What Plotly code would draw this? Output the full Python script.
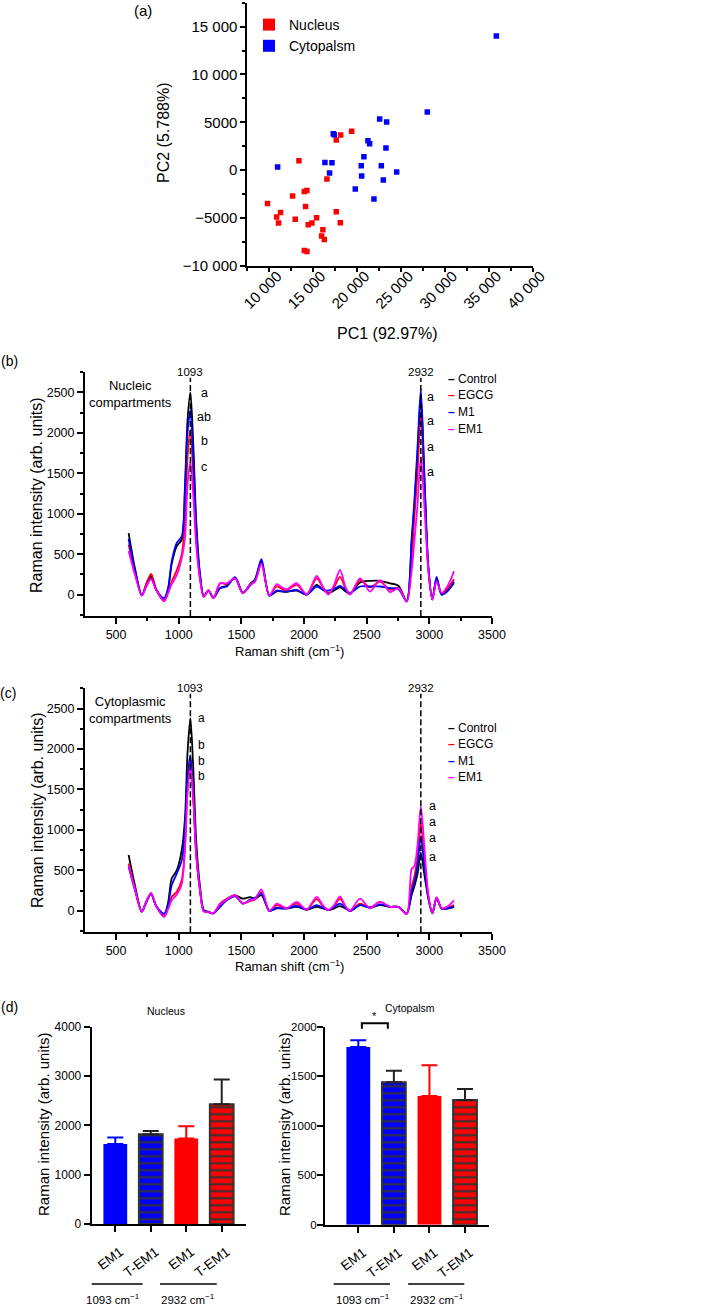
import plotly.graph_objects as go

# ---------------- DATA ----------------
# (a) PCA scores
nucleus_pc1 = [9800, 10840, 11060, 11290, 12660, 12960, 13380, 13990, 14290, 14140, 14440, 14860,
               15390, 13990, 14290, 16110, 15960, 16270, 16570, 17630, 18090, 17630, 18130, 19380]
nucleus_pc2 = [-3490, -4920, -5540, -4430, -2720, -5130, 980, -2230, -2130, -3800, -5720, -5540,
               -4990, -8400, -8510, -6240, -6900, -7250, -940, -4360, -5510, 3140, 3660, 4050]
cyto_pc1 = [10950, 17290, 17400, 16340, 17140, 16870, 19800, 20480, 20520, 20780, 21240,
            21430, 21920, 22570, 23370, 23290, 22760, 22990, 24510, 28000, 35860]
cyto_pc2 = [310, 3800, 3700, 800, 770, -310, -1990, 450, -630, 1400, 3070,
            2760, -3030, 5340, 5020, 2300, 450, -1050, -210, 6070, 14020]
pca_xticks = [10000, 15000, 20000, 25000, 30000, 35000, 40000]
pca_xticktext = ["10 000", "15 000", "20 000", "25 000", "30 000", "35 000", "40 000"]
pca_yticks = [-10000, -5000, 0, 5000, 10000, 15000]
pca_yticktext = ["\u221210 000", "\u22125000", "0", "5000", "10 000", "15 000"]

# (b), (c) Raman spectra
raman_shift = [600, 650, 705, 740, 779, 820, 883, 915, 944, 984,
               1024, 1050, 1070, 1093, 1115, 1140, 1170, 1200, 1237, 1277,
               1330, 1383, 1450, 1511, 1569, 1609, 1660, 1723, 1782, 1822,
               1862, 1941, 2021, 2101, 2150, 2194, 2240, 2287, 2330, 2367,
               2447, 2527, 2606, 2686, 2753, 2819, 2859, 2880, 2905, 2932,
               2960, 2992, 3024, 3058, 3098, 3150, 3197]

nuc_control = [760, 330, -10, 120, 230, 60, -75, 60, 380, 600,
               680, 1350, 2150, 2500, 1900, 900, 250, -20, 50, -40,
               80, 110, 200, 20, 130, 190, 410, -10, 40, 40,
               35, 50, 0, 120, 60, 20, 50, 90, 40, 10,
               150, 170, 170, 140, 110, -80, 650, 1080, 1700, 2450,
               1450, 330, -60, 200, 0, 60, 140]
nuc_egcg = [620, 280, -10, 130, 255, 70, -85, 20, 160, 300,
            500, 900, 1700, 2040, 1500, 700, 200, -25, 55, -40,
            140, 130, 210, 20, 120, 170, 380, -10, 100, 70,
            55, 120, 0, 200, 90, 10, 90, 220, 80, 5,
            180, 90, 160, 60, 80, -85, 450, 950, 1500, 2230,
            1350, 320, -60, 180, 10, 90, 190]
nuc_m1 = [690, 300, -10, 100, 200, 60, -45, 80, 410, 640,
          720, 1300, 2000, 2280, 1750, 800, 230, -20, 50, -40,
          80, 100, 215, 20, 110, 180, 437, -15, 50, 40,
          37, 58, 0, 100, 60, 50, 70, 107, 60, 20,
          100, 100, 100, 80, 70, -80, 700, 1150, 1800, 2540,
          1500, 350, -60, 220, 0, 50, 160]
nuc_em1 = [540, 250, -10, 100, 190, 60, -80, 20, 130, 240,
           450, 700, 1350, 1640, 1250, 600, 180, -30, 50, -45,
           140, 140, 200, 15, 120, 160, 380, -15, 130, 90,
           65, 140, 0, 230, 100, 0, 120, 305, 100, 0,
           200, 37, 180, 30, 80, -90, 300, 650, 1100, 1700,
           1100, 300, -65, 160, 20, 120, 290]

cyt_control = [690, 320, -10, 110, 215, 60, -60, 100, 400, 500,
               750, 1150, 1950, 2380, 1800, 850, 300, 10, -10, -30,
               60, 140, 190, 150, 170, 150, 195, 0, 30, 30,
               30, 50, 15, 50, 30, 10, 30, 58, 30, 0,
               70, 40, 70, 50, 50, -30, 200, 300, 450, 720,
               450, 150, -30, 150, 30, 30, 50]
cyt_egcg = [585, 280, -10, 110, 220, 60, -70, 30, 173, 235,
            380, 800, 1500, 1880, 1450, 700, 250, 0, -15, -30,
            90, 150, 195, 90, 120, 140, 230, 0, 70, 50,
            30, 90, 15, 145, 60, 10, 60, 150, 50, 0,
            90, 40, 110, 50, 50, -40, 300, 420, 650, 1080,
            650, 180, -30, 160, 30, 40, 70]
cyt_m1 = [545, 260, -10, 100, 210, 60, -35, 80, 317, 460,
          625, 1000, 1650, 1920, 1450, 700, 250, 0, -15, -30,
          50, 130, 180, 90, 140, 160, 215, 0, 40, 30,
          30, 60, 15, 70, 40, 10, 50, 90, 40, 0,
          70, 40, 80, 50, 50, -35, 250, 350, 550, 920,
          550, 170, -30, 160, 30, 30, 58]
cyt_em1 = [565, 270, -10, 110, 220, 60, -75, 20, 130, 200,
           330, 790, 1450, 1800, 1400, 680, 250, -10, -15, -30,
           80, 140, 190, 90, 130, 150, 265, 0, 90, 60,
           30, 110, 15, 173, 70, 10, 70, 180, 60, 0,
           150, 30, 110, 50, 50, -40, 520, 550, 800, 1290,
           800, 200, -30, 170, 30, 60, 130]

series_names = ["Control", "EGCG", "M1", "EM1"]
series_colors = ["#000000", "#FF0000", "#0000FF", "#FF00FF"]
peak_positions = [1093, 2932]
nuc_letters_1093 = ["a", "ab", "b", "c"]
nuc_letters_2932 = ["a", "a", "a", "a"]
cyt_letters_1093 = ["a", "b<br>b<br>b"]
cyt_letters_2932 = ["a", "a", "a", "a"]

# (d) bar charts
bar_labels = ["EM1", "T-EM1", "EM1", "T-EM1"]
bar_pos = [0, 1, 2, 3]
nucleus_mean = [1620, 1820, 1735, 2430]
nucleus_err = [135, 65, 245, 500]
cyto_mean = [1795, 1440, 1300, 1260]
cyto_err = [67, 115, 310, 110]
bar_fill = ["#0000FF", "#0000FF", "#FF0000", "#FF0000"]
bar_striped = [False, True, False, True]
group_labels = ["1093 cm<sup>\u22121</sup>", "2932 cm<sup>\u22121</sup>"]

# ---------------- LAYOUT HELPERS ----------------
W, H = 708, 1308
FONT = "Liberation Sans, Arial, sans-serif"


def pxx(p):
    return p / W


def pxy(p):
    return 1 - p / H


fig = go.Figure()

# ---- (a) scatter ----
fig.add_trace(go.Scatter(x=nucleus_pc1, y=nucleus_pc2, mode="markers", name="Nucleus",
                         marker=dict(symbol="square", size=5.5, color="#FF0000", line=dict(width=0)),
                         xaxis="x", yaxis="y", legend="legend"))
fig.add_trace(go.Scatter(x=cyto_pc1, y=cyto_pc2, mode="markers", name="Cytopalsm",
                         marker=dict(symbol="square", size=5.5, color="#0000FF", line=dict(width=0)),
                         xaxis="x", yaxis="y", legend="legend"))

# ---- (b), (c) spectra ----
panels = [("x2", "y2", [nuc_control, nuc_egcg, nuc_m1, nuc_em1]),
          ("x3", "y3", [cyt_control, cyt_egcg, cyt_m1, cyt_em1])]
for xa, ya, series in panels:
    for name, color, vals in zip(series_names, series_colors, series):
        fig.add_trace(go.Scatter(x=raman_shift, y=vals, mode="lines", name=name,
                                 line=dict(color=color, width=1.8, shape="spline", smoothing=0.8),
                                 xaxis=xa, yaxis=ya, showlegend=False))

# ---- (d) bars ----
for xa, ya, means, errs in [("x4", "y4", nucleus_mean, nucleus_err),
                            ("x5", "y5", cyto_mean, cyto_err)]:
    for i in range(4):
        if bar_striped[i]:
            marker = dict(color=bar_fill[i],
                          pattern=dict(shape="-", fgcolor="#333333", bgcolor=bar_fill[i],
                                       size=7, solidity=0.3, fillmode="replace"),
                          line=dict(color="#333333", width=2))
            ecol = "#222222"
        else:
            marker = dict(color=bar_fill[i], line=dict(width=0))
            ecol = bar_fill[i]
        fig.add_trace(go.Bar(x=[bar_pos[i]], y=[means[i]], width=0.67, marker=marker,
                             error_y=dict(type="data", symmetric=False, array=[errs[i]],
                                          arrayminus=[0], color=ecol, thickness=2, width=8),
                             xaxis=xa, yaxis=ya, showlegend=False))

axis_common = dict(showgrid=False, zeroline=False, showline=True, linecolor="black",
                   ticks="outside", tickcolor="black", mirror=False, automargin=False)

layout = dict(
    template="none",
    width=W, height=H, margin=dict(l=0, r=0, t=0, b=0, pad=0), autosize=False,
    paper_bgcolor="white", plot_bgcolor="white", barmode="overlay",
    font=dict(family=FONT, color="black", size=13),
    # (a)
    xaxis=dict(domain=[pxx(247.3), pxx(532.7)], range=[7500, 40000], anchor="y",
               tickmode="array", tickvals=pca_xticks, ticktext=pca_xticktext,
               tickangle=-45, ticklen=4, linewidth=1.8, tickwidth=1.5,
               ticklabelshift=8, ticklabelstandoff=-10,
               tickfont=dict(size=15, family=FONT),
               minor=dict(tickmode="linear", tick0=7500, dtick=5000, ticklen=3,
                          tickcolor="black", ticks="outside"),
               **axis_common),
    yaxis=dict(domain=[pxy(265.7), pxy(2.7)], range=[-10000, 17500], anchor="x",
               tickmode="array", tickvals=pca_yticks, ticktext=pca_yticktext,
               ticklen=5, linewidth=1.8, tickwidth=1.5, tickfont=dict(size=15, family=FONT),
               minor=dict(tickmode="linear", tick0=-7500, dtick=5000, ticklen=3,
                          tickcolor="black", ticks="outside"),
               **axis_common),
    legend=dict(x=pxx(249), y=pxy(9), xanchor="left", yanchor="top",
                itemsizing="constant", font=dict(size=14, family=FONT),
                bgcolor="rgba(0,0,0,0)", tracegroupgap=0, borderwidth=0),
)

for xa, ya, top, bot in [("xaxis2", "yaxis2", 371.7, 616.0), ("xaxis3", "yaxis3", 687.7, 932.3)]:
    layout[xa] = dict(domain=[pxx(85), pxx(492)], range=[252, 3500], anchor=ya.replace("axis", ""),
                      dtick=500, tick0=500, ticklen=6, linewidth=2, tickwidth=1.5,
                      tickfont=dict(size=12.5, family=FONT),
                      minor=dict(dtick=250, tick0=250, ticklen=3, tickcolor="black", ticks="outside"),
                      **axis_common)
    layout[ya] = dict(domain=[pxy(bot), pxy(top)], range=[-265, 2757], anchor=xa.replace("axis", ""),
                      dtick=500, tick0=0, ticklen=6, linewidth=2, tickwidth=1.5,
                      tickfont=dict(size=12.5, family=FONT),
                      minor=dict(dtick=250, tick0=250, ticklen=3, tickcolor="black", ticks="outside"),
                      **axis_common)

layout["xaxis4"] = dict(domain=[pxx(91.7), pxx(245.7)], range=[-0.665, 3.676], anchor="y4",
                        tickmode="array", tickvals=bar_pos, ticktext=bar_labels, tickangle=-37,
                        ticklen=6, linewidth=2, tickwidth=1.5, ticklabelshift=5, ticklabelstandoff=7,
                        tickfont=dict(size=13.5, family=FONT), **axis_common)
layout["yaxis4"] = dict(domain=[pxy(1224), pxy(1026.7)], range=[0, 4000], anchor="x4",
                        dtick=1000, ticklen=6, linewidth=2, tickwidth=1.5,
                        tickfont=dict(size=12, family=FONT), **axis_common)
layout["xaxis5"] = dict(domain=[pxx(325), pxx(489)], range=[-0.936, 3.674], anchor="y5",
                        tickmode="array", tickvals=bar_pos, ticktext=bar_labels, tickangle=-37,
                        ticklen=6, linewidth=2, tickwidth=1.5, ticklabelshift=5, ticklabelstandoff=7,
                        tickfont=dict(size=13.5, family=FONT), **axis_common)
layout["yaxis5"] = dict(domain=[pxy(1224.7), pxy(1026.7)], range=[0, 2000], anchor="x5",
                        dtick=500, ticklen=6, linewidth=2, tickwidth=1.5, ticklabelstandoff=-2,
                        tickfont=dict(size=11.5, family=FONT), **axis_common)

fig.update_layout(**layout)

ann = []


def A(text, x, y, xref="paper", yref="paper", size=13, angle=0,
      xanchor="center", yanchor="middle"):
    ann.append(dict(text=text, x=x, y=y, xref=xref, yref=yref, showarrow=False,
                    font=dict(size=size, family=FONT, color="black"), textangle=angle,
                    xanchor=xanchor, yanchor=yanchor))


# panel labels
A("(a)", pxx(143), pxy(11), size=15)
A("(b)", pxx(9), pxy(361), size=14)
A("(c)", pxx(8), pxy(693), size=14)
A("(d)", pxx(9), pxy(1006.5), size=14)

# axis titles
A("PC2 (5.788%)", pxx(163), pxy(133), size=16, angle=-90)
A("PC1 (92.97%)", pxx(388), pxy(333.5), size=16)
A("Raman intensity (arb. units)", pxx(36), pxy(495), size=16, angle=-90)
A("Raman intensity (arb. units)", pxx(38), pxy(810), size=16, angle=-90)
A("Raman shift (cm<sup>\u22121</sup>)", pxx(289), pxy(651), size=13)
A("Raman shift (cm<sup>\u22121</sup>)", pxx(289), pxy(966), size=13)
A("Raman intensity (arb. units)", pxx(43), pxy(1125), size=15, angle=-90)
A("Raman intensity (arb. units)", pxx(284), pxy(1125), size=15, angle=-90)

# spectra annotations
shapes = []
for xa, ya in [("x2", "y2"), ("x3", "y3")]:
    for p in peak_positions:
        A(str(p), p, 1.0, xref=xa, yref=ya + " domain", size=11.5)
        shapes.append(dict(type="line", xref=xa, yref=ya + " domain", x0=p, x1=p, y0=0, y1=0.975,
                           line=dict(color="black", width=1.5, dash="6px,3px")))

A("Nucleic<br>compartments", 612, 2478, xref="x2", yref="y2", size=13)
A("Cytoplasmic<br>compartments", 612, 2481, xref="x3", yref="y3", size=13)

for lt, ys in zip(nuc_letters_1093, [2496, 2200, 1902, 1581]):
    A(lt, 1202, ys, xref="x2", yref="y2", size=12.5)
for lt, ys in zip(nuc_letters_2932, [2447, 2150, 1828, 1518]):
    A(lt, 3013, ys, xref="x2", yref="y2", size=12.5)
for lt, ys in zip(cyt_letters_1093, [2382, 1855]):
    A(lt, 1184, ys, xref="x3", yref="y3", size=12)
for lt, ys in zip(cyt_letters_2932, [1298, 1096, 899, 668]):
    A(lt, 3029, ys, xref="x3", yref="y3", size=12.5)

# spectra legends
for rows in [[379, 395.5, 412, 428.5], [728, 744.3, 760.7, 777]]:
    for name, color, ry in zip(series_names, series_colors, rows):
        A('<span style="color:%s"><b>\u2013</b></span> %s' % (color, name), pxx(446), pxy(ry),
          size=12, xanchor="left")

# bar chart titles and significance
A("Nucleus", pxx(166), pxy(1010.7), size=10.5)
A("Cytopalsm", pxx(410), pxy(1008.3), size=10.5)
A("*", 0.45, pxy(1016), xref="x5", size=11)
shapes.append(dict(type="path", xref="x5", yref="paper",
                   path="M 0.1,%f L 0.1,%f L 0.83,%f L 0.83,%f" % (pxy(1028.7), pxy(1023.3), pxy(1023.3), pxy(1028.7)),
                   line=dict(color="black", width=2)))

# group labels under bars
for xa, spans, centers in [("x4", [(-0.83, 0.77), (1.26, 2.86)], [-0.06, 2.04]),
                           ("x5", [(-0.69, 0.89), (1.40, 2.98)], [0.12, 2.22])]:
    for (a0, a1), c, lab in zip(spans, centers, group_labels):
        shapes.append(dict(type="line", xref=xa, yref="paper", x0=a0, x1=a1,
                           y0=pxy(1284), y1=pxy(1284), line=dict(color="black", width=1.5)))
        A(lab, c, pxy(1299), xref=xa, size=11.5)

fig.update_layout(annotations=ann, shapes=shapes)
fig.write_html("out.html", config={"displayModeBar": False},
               post_script="document.body.style.margin='0px';")
